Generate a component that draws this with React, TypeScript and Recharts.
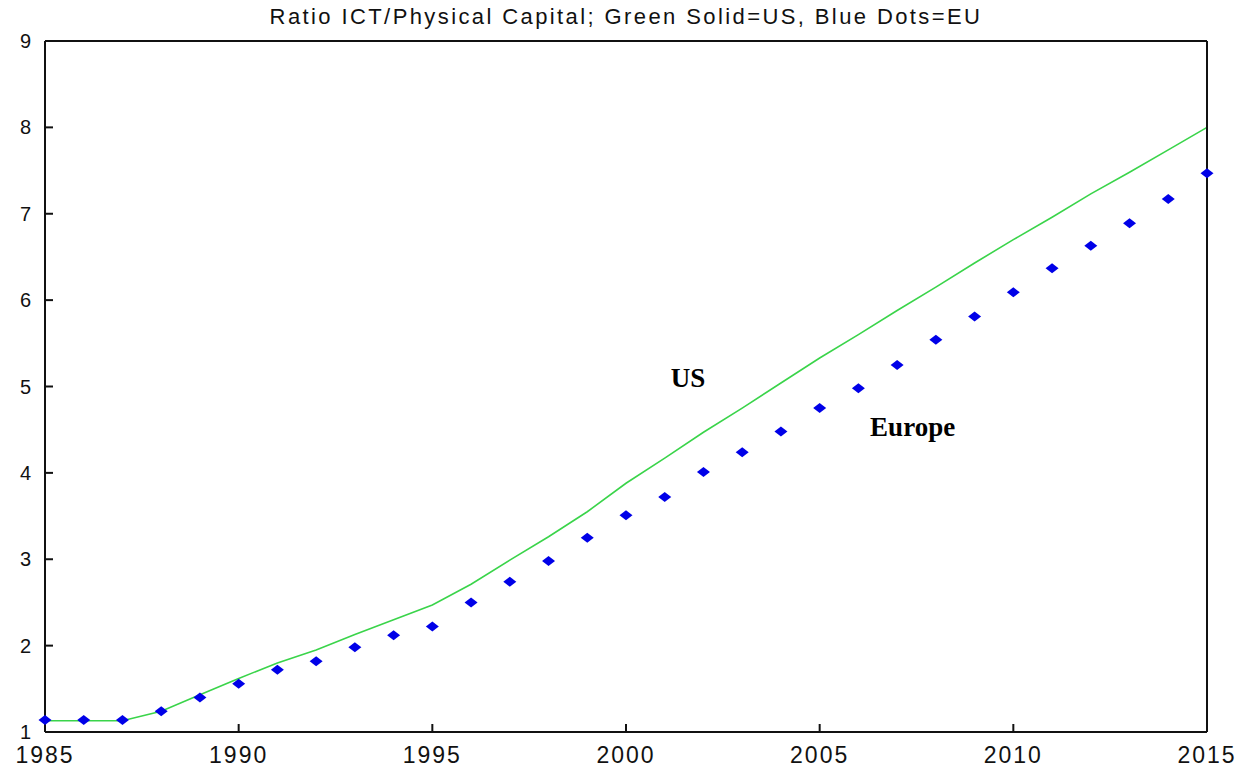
import { ComposedChart, Line, XAxis, YAxis, ReferenceDot } from "recharts";

// years on the x axis
const years = [
  1985, 1986, 1987, 1988, 1989, 1990, 1991, 1992, 1993, 1994, 1995, 1996, 1997, 1998, 1999, 2000,
  2001, 2002, 2003, 2004, 2005, 2006, 2007, 2008, 2009, 2010, 2011, 2012, 2013, 2014, 2015,
];

// ratio ICT / physical capital, US (green solid)
const usRatio = [
  1.13, 1.13, 1.13, 1.24, 1.43, 1.62, 1.8, 1.95, 2.13, 2.3, 2.47, 2.71, 2.99, 3.26, 3.55, 3.88,
  4.17, 4.47, 4.75, 5.04, 5.33, 5.6, 5.88, 6.15, 6.43, 6.7, 6.96, 7.23, 7.48, 7.74, 8.0,
];

// ratio ICT / physical capital, EU (blue dots)
const euRatio = [
  1.14, 1.14, 1.14, 1.24, 1.4, 1.56, 1.72, 1.82, 1.98, 2.12, 2.22, 2.5, 2.74, 2.98, 3.25, 3.51,
  3.72, 4.01, 4.24, 4.48, 4.75, 4.98, 5.25, 5.54, 5.81, 6.09, 6.37, 6.63, 6.89, 7.17, 7.47,
];

const xTicks = [1985, 1990, 1995, 2000, 2005, 2010, 2015];
const yTicks = [1, 2, 3, 4, 5, 6, 7, 8, 9];

const title = "Ratio ICT/Physical Capital; Green Solid=US, Blue Dots=EU";

// in-plot annotations, anchored in data units
const usLabel = { year: 2001.6, value: 5.1, text: "US" };
const euLabel = { year: 2007.4, value: 4.53, text: "Europe" };

const data = years.map((year, i) => ({ year, us: usRatio[i], eu: euRatio[i] }));

const axisColor = "#111";
const tickFont = { fill: "#111", fontSize: 23, fontFamily: "Liberation Sans, Arial, sans-serif", letterSpacing: 2 };
const yTickFont = { fill: "#111", fontSize: 20, fontFamily: "Liberation Sans, Arial, sans-serif", letterSpacing: 1 };

const Diamond = (props: any) => {
  const { cx, cy, index } = props;
  if (cx == null || cy == null) return null;
  return (
    <polygon
      key={`eu-${index}`}
      points={`${cx - 6.5},${cy} ${cx},${cy - 5} ${cx + 6.5},${cy} ${cx},${cy + 5}`}
      fill="#0000e8"
    />
  );
};

const annotation = (text: string) => (props: any) => (
  <text
    x={props.cx}
    y={props.cy}
    textAnchor="middle"
    dominantBaseline="central"
    fontFamily="Liberation Serif, Times New Roman, serif"
    fontWeight="bold"
    fontSize={27}
    fill="#000"
  >
    {text}
  </text>
);

export default function App() {
  return (
    <div style={{ position: "absolute", left: 0, top: 0, width: 1253, height: 767, background: "#fff" }}>
      <div
        style={{
          position: "absolute",
          left: 45,
          width: 1162,
          top: 4,
          textAlign: "center",
          fontFamily: "Liberation Sans, Arial, sans-serif",
          fontSize: 22,
          letterSpacing: 2.4,
          color: "#111",
        }}
      >
        {title}
      </div>
      <ComposedChart
        width={1253}
        height={767}
        data={data}
        margin={{ top: 40, right: 45, bottom: 0, left: 0 }}
      >
        <XAxis
          dataKey="year"
          type="number"
          domain={[1985, 2015]}
          ticks={xTicks}
          height={35}
          tickSize={-8}
          tickMargin={23}
          tick={tickFont}
          axisLine={{ stroke: axisColor, strokeWidth: 2 }}
          tickLine={{ stroke: axisColor, strokeWidth: 2 }}
        />
        <XAxis
          xAxisId="top"
          dataKey="year"
          orientation="top"
          type="number"
          domain={[1985, 2015]}
          ticks={xTicks}
          height={1}
          tickSize={-8}
          tick={false}
          axisLine={{ stroke: axisColor, strokeWidth: 2 }}
          tickLine={{ stroke: axisColor, strokeWidth: 2 }}
        />
        <YAxis
          type="number"
          domain={[1, 9]}
          ticks={yTicks}
          width={45}
          tickSize={-8}
          tickMargin={21}
          tick={yTickFont}
          axisLine={{ stroke: axisColor, strokeWidth: 2 }}
          tickLine={{ stroke: axisColor, strokeWidth: 2 }}
        />
        <YAxis
          yAxisId="right"
          orientation="right"
          type="number"
          domain={[1, 9]}
          ticks={yTicks}
          width={1}
          tickSize={-8}
          tick={false}
          axisLine={{ stroke: axisColor, strokeWidth: 2 }}
          tickLine={{ stroke: axisColor, strokeWidth: 2 }}
        />
        <Line
          dataKey="us"
          type="linear"
          stroke="#3ad44a"
          strokeWidth={1.6}
          dot={false}
          activeDot={false}
          isAnimationActive={false}
        />
        <Line
          dataKey="eu"
          xAxisId="top"
          yAxisId="right"
          type="linear"
          stroke="none"
          dot={Diamond}
          activeDot={false}
          isAnimationActive={false}
        />
        <ReferenceDot x={usLabel.year} y={usLabel.value} r={0} shape={annotation(usLabel.text)} />
        <ReferenceDot x={euLabel.year} y={euLabel.value} r={0} shape={annotation(euLabel.text)} />
      </ComposedChart>
    </div>
  );
}
